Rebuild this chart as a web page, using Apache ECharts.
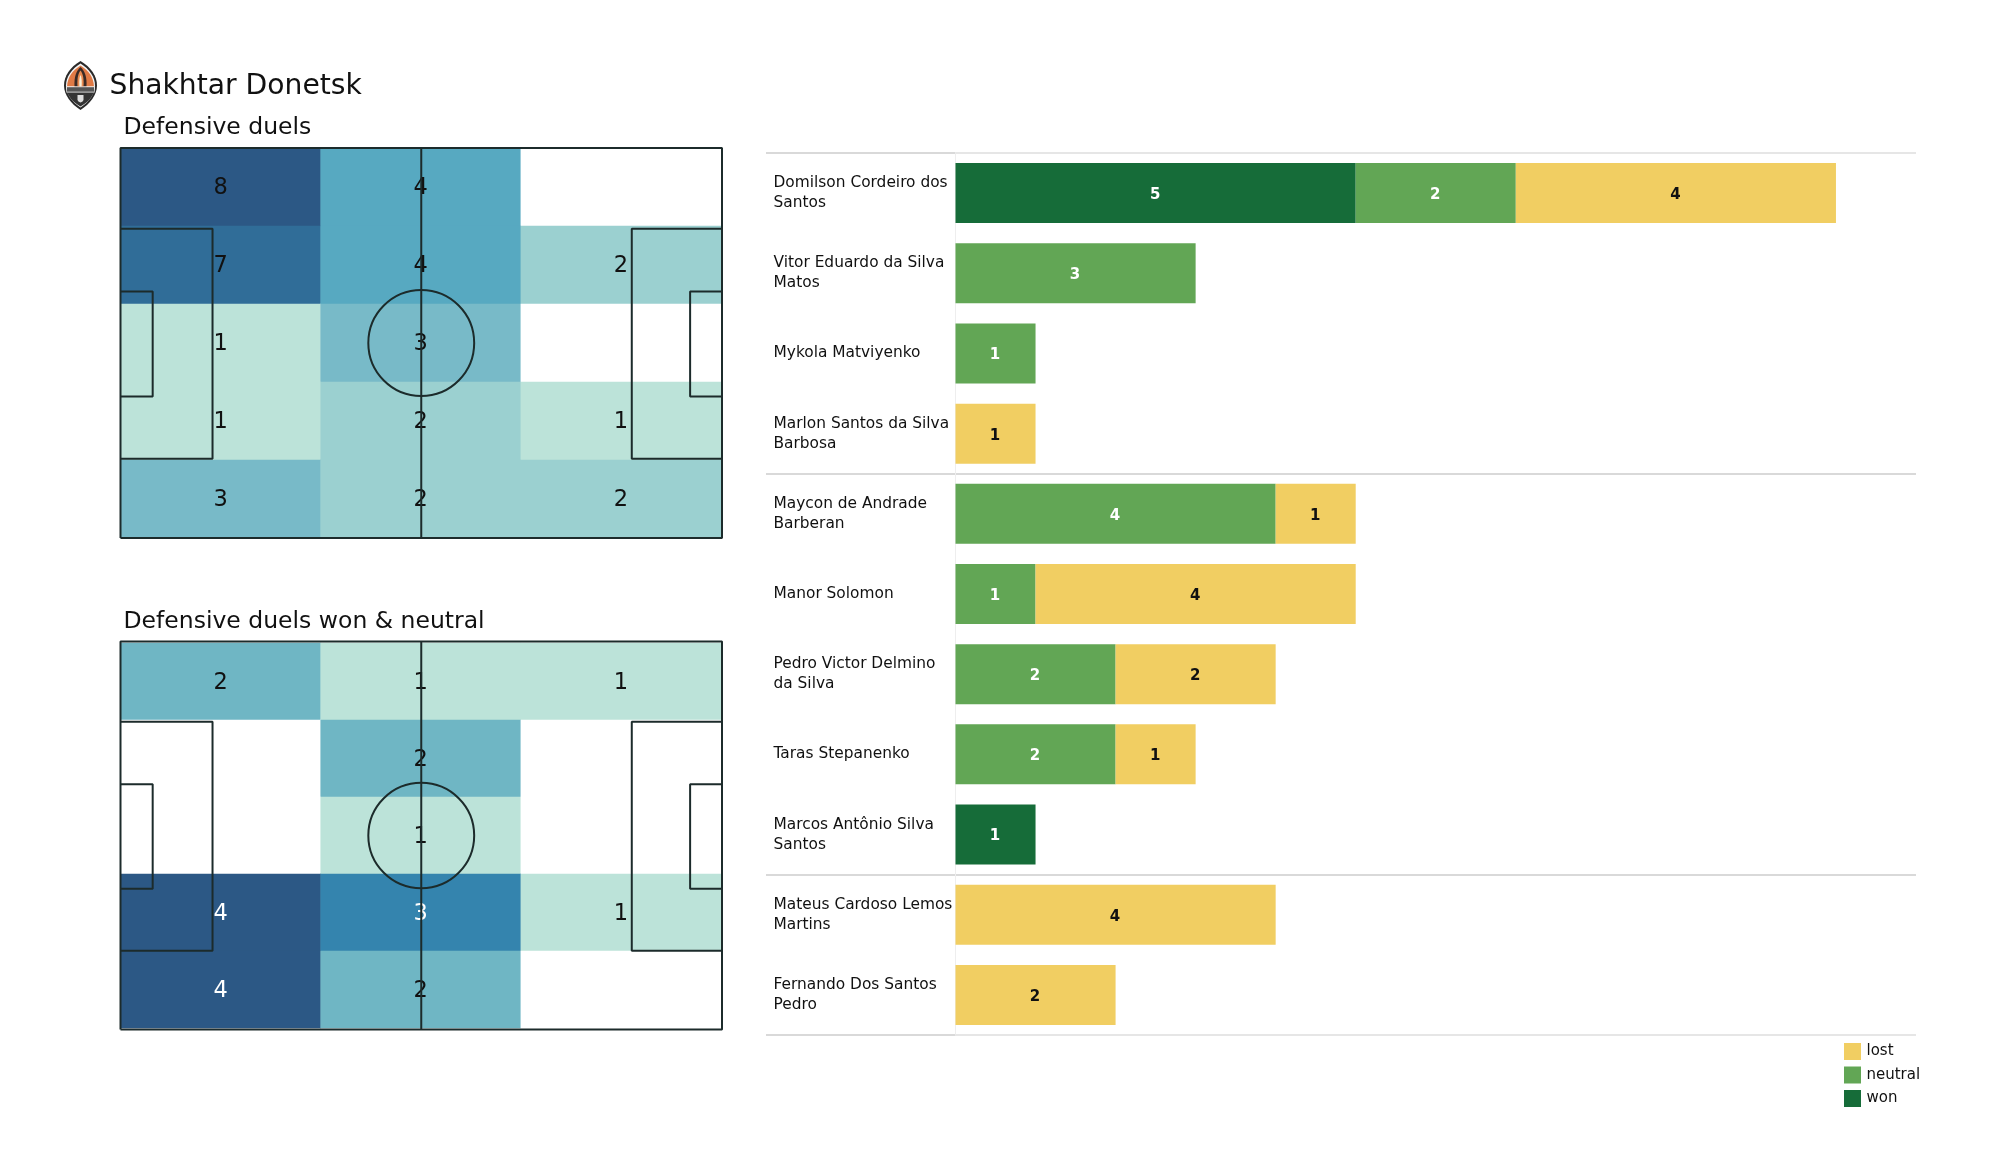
<!DOCTYPE html>
<html><head><meta charset="utf-8">
<script src="https://cdn.jsdelivr.net/npm/echarts@6/dist/echarts.min.js"></script>
<style>html,body{margin:0;background:#fff}#c{width:2000px;height:1175px}</style>
</head><body><div id="c"></div>
<script>
// ---------- data ----------
const teamName = 'Shakhtar Donetsk';
const titleAll = 'Defensive duels';
const titleWon = 'Defensive duels won & neutral';
// zones: rows top to bottom, columns left to right
const duelsAll = [[8,4,0],[7,4,2],[1,3,0],[1,2,1],[3,2,2]];
const duelsWon = [[2,1,1],[0,2,0],[0,1,0],[4,3,1],[4,2,0]];
const colorsAll = {0:'#ffffff',1:'#bce3d9',2:'#9bd0d0',3:'#78bac8',4:'#57a9c1',7:'#306d98',8:'#2c5885'};
const colorsWon = {0:'#ffffff',1:'#bce3d9',2:'#6fb6c4',3:'#3484ae',4:'#2c5885'};
const players = ['Domilson Cordeiro dos\nSantos','Vitor Eduardo da Silva\nMatos','Mykola Matviyenko','Marlon Santos da Silva\nBarbosa','Maycon de Andrade\nBarberan','Manor Solomon','Pedro Victor Delmino\nda Silva','Taras Stepanenko','Marcos Antônio Silva\nSantos','Mateus Cardoso Lemos\nMartins','Fernando Dos Santos\nPedro'];
const won     = [5,0,0,0,0,0,0,0,1,0,0];
const neutral = [2,3,1,0,4,1,2,2,0,0,0];
const lost    = [4,0,0,1,1,4,2,1,0,4,2];
const groupStarts = [4,9];
// pitch markings, in percent of pitch
const pitchOutline = [[0,0],[100,0],[100,100],[0,100],[0,0]];
const halfway = [[50,0],[50,100]];
const boxLeft = [[0,20.3],[15.3,20.3],[15.3,79.3],[0,79.3]];
const boxRight = [[100,20.3],[85,20.3],[85,79.3],[100,79.3]];
const sixLeft = [[0,36.3],[5.35,36.3],[5.35,63.2],[0,63.2]];
const sixRight = [[100,36.3],[94.7,36.3],[94.7,63.2],[100,63.2]];
const pitchLines = [pitchOutline,halfway,boxLeft,boxRight,sixLeft,sixRight];
const centreCircle = {cx:50,cy:50,rx:8.8,ry:13.6};

const crest = `<svg xmlns="http://www.w3.org/2000/svg" viewBox="0 0 33 49" width="132" height="196">
<path d="M16.5 0C27 6 33 15 33 24.5C33 34 26 43 16.5 49C7 43 0 34 0 24.5C0 15 6 6 16.5 0Z" fill="#2a2a2a"/>
<path d="M16.5 2.5C25.5 8 31 16 31 24.5C31 33 25 41 16.5 46.5C8 41 2 33 2 24.5C2 16 7.5 8 16.5 2.5Z" fill="#f4f4f4"/>
<path d="M16.5 4.5C24.5 9.5 29.5 16 30 25.5L3 25.5C3.5 16 8.5 9.5 16.5 4.5Z" fill="#e07a45"/>
<path d="M16.5 6C21 10 23 16 22.5 25.5L10.5 25.5C10 16 12 10 16.5 6Z" fill="#3a2a25"/>
<path d="M16.5 9.5C19 12.5 20 18 19.5 25.5L13.5 25.5C13 18 14 12.5 16.5 9.5Z" fill="#e88a50"/>
<path d="M16.5 14C17.6 16 18 20 17.6 25.5L15.4 25.5C15 20 15.4 16 16.5 14Z" fill="#f7f0dc"/>
<rect x="2.4" y="25.5" width="28.2" height="6" fill="#f4f4f4"/>
<rect x="3" y="26.2" width="27" height="4.5" fill="#555"/>
<path d="M3.2 31.5L29.8 31.5C27.5 37 23 42 16.5 45.5C10 42 5.5 37 3.2 31.5Z" fill="#333"/>
<path d="M13.5 34H19.5V38.5C19.5 40 18 41 16.5 41.5C15 41 13.5 40 13.5 38.5Z" fill="#ddd"/>
</svg>`;

// ---------- layout helpers ----------
const chart = echarts.init(document.getElementById('c'));
const FONT = '"DejaVu Sans"';
const INK = '#111111';
const LINE = '#1c2b2b';

const pitchFrames = [
  {cell:{left:120.5,top:148,width:600.5,height:390}, pitch:{left:120.5,top:148,width:601.5,height:390}, rows:duelsAll, colors:colorsAll, whiteFrom:99, nudge:1.5},
  {cell:{left:120.5,top:643,width:600.5,height:385}, pitch:{left:120.5,top:641.5,width:601.5,height:388}, rows:duelsWon, colors:colorsWon, whiteFrom:3, nudge:2}
];
const grids=[],xAxes=[],yAxes=[],series=[],visualMaps=[];
function addAxes(grid,x,y){
  grids.push(grid); xAxes.push({gridIndex:grids.length-1,...x}); yAxes.push({gridIndex:grids.length-1,...y});
  return grids.length-1;
}
const hiddenCat = d=>({type:'category',data:d,show:false});
const hiddenVal = ()=>({type:'value',min:0,max:100,show:false});

pitchFrames.forEach(f=>{
  const g = addAxes(f.cell, hiddenCat([0,1,2]), {...hiddenCat([0,1,2,3,4]),inverse:true});
  const data=[];
  f.rows.forEach((row,r)=>row.forEach((v,c)=>data.push({value:[c,r,v],label:{color:v>=f.whiteFrom?'#ffffff':INK}})));
  visualMaps.push({type:'piecewise',show:false,dimension:2,seriesIndex:series.length,
    pieces:Object.keys(f.colors).map(k=>({value:+k,color:f.colors[k]}))});
  series.push({type:'heatmap',xAxisIndex:g,yAxisIndex:g,data,z:2,animation:false,
    label:{show:true,fontFamily:FONT,fontSize:22.5,offset:[0,f.nudge],formatter:p=>p.value[2]||''},
    emphasis:{disabled:true}});
  const p = addAxes(f.pitch, hiddenVal(), hiddenVal());
  pitchLines.forEach(seg=>series.push({type:'line',xAxisIndex:p,yAxisIndex:p,data:seg,z:5,
    showSymbol:false,silent:true,animation:false,clip:false,lineStyle:{color:LINE,width:2}}));
  series.push({type:'custom',xAxisIndex:p,yAxisIndex:p,z:5,silent:true,animation:false,clip:false,
    data:[[centreCircle.cx,centreCircle.cy]],
    renderItem:(params,api)=>{
      const c=api.coord([api.value(0),api.value(1)]);
      const e=api.coord([api.value(0)+centreCircle.rx,api.value(1)+centreCircle.ry]);
      return {type:'ellipse',shape:{cx:c[0],cy:c[1],rx:Math.abs(e[0]-c[0]),ry:Math.abs(e[1]-c[1])},
        style:{fill:'none',stroke:LINE,lineWidth:2}};
    }});
});

// bars: name column and bar area share the same band layout
const rowTop=153, rowH=882;
const splitAt = i=>groupStarts.includes(i);
addAxes({left:766,top:rowTop,width:189.5,height:rowH},
  {type:'value',min:0,max:1,show:false},
  {type:'category',data:players,inverse:true,
   axisLine:{show:false},axisTick:{show:false},
   axisLabel:{inside:true,margin:7.5,align:'left',fontFamily:FONT,fontSize:15.4,lineHeight:20,color:INK,padding:[4,0,0,0]},
   splitLine:{show:true,interval:i=>i===0||splitAt(i),lineStyle:{color:'#d9d9d9',width:2}}});
const barG = addAxes({left:955.5,top:rowTop,width:960.5,height:rowH},
  {type:'value',min:0,max:12,show:false},
  {type:'category',data:players,inverse:true,
   axisLine:{show:true,lineStyle:{color:'#eeeeee',width:1}},axisTick:{show:false},axisLabel:{show:false},
   splitLine:{show:true,interval:splitAt,lineStyle:{color:'#d9d9d9',width:2}}});
// lighter top and bottom rules over the bar area
addAxes({left:955.5,top:rowTop,width:960.5,height:rowH},
  {type:'value',min:0,max:1,show:false},
  {type:'category',data:players,inverse:true,z:1,
   axisLine:{show:false},axisTick:{show:false},axisLabel:{show:false},
   splitLine:{show:true,interval:i=>i===0,lineStyle:{color:'#e6e6e6',width:2}}});
[['won',won,'#166c39','#ffffff'],['neutral',neutral,'#62a655','#ffffff'],['lost',lost,'#f1ce62','#111111']].forEach(([name,vals,col,txt])=>{
  series.push({type:'bar',name,stack:'d',xAxisIndex:barG,yAxisIndex:barG,data:vals,barWidth:60,
    itemStyle:{color:col},animation:false,z:3,
    label:{show:true,position:'inside',offset:[-0.5,2],color:txt,fontFamily:FONT,fontWeight:'bold',fontSize:15,
      formatter:p=>p.value||''}});
});

chart.setOption({
  backgroundColor:'#ffffff',
  animation:false,
  title:[
    {text:teamName,left:104.5,top:67.5,textStyle:{fontFamily:FONT,fontWeight:'normal',fontSize:28.2,color:INK}},
    {text:titleAll,left:118.5,top:111,textStyle:{fontFamily:FONT,fontWeight:'normal',fontSize:23.5,color:INK}},
    {text:titleWon,left:118.5,top:605,textStyle:{fontFamily:FONT,fontWeight:'normal',fontSize:23.5,color:INK}}
  ],
  legend:{data:['lost','neutral','won'],orient:'vertical',left:1844,top:1043,itemWidth:17,itemHeight:17,itemGap:6.5,
    icon:'rect',selectedMode:false,textStyle:{fontFamily:FONT,fontSize:15,color:INK,padding:[4,0,0,0.5]},padding:0},
  graphic:[{type:'image',left:64,top:61,z:10,style:{image:'data:image/svg+xml;charset=utf-8,'+encodeURIComponent(crest),width:33,height:49}}],
  grid:grids,xAxis:xAxes,yAxis:yAxes,visualMap:visualMaps,series
});
</script></body></html>
